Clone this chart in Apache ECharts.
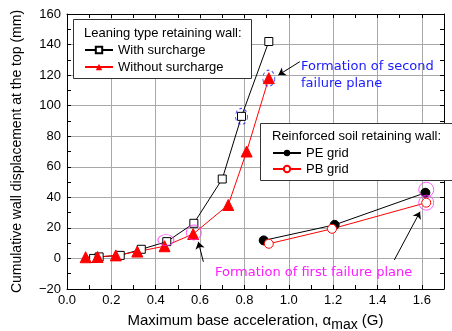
<!DOCTYPE html>
<html><head><meta charset="utf-8">
<script src="https://cdn.jsdelivr.net/npm/echarts@6/dist/echarts.min.js"></script>
<style>html,body{margin:0;padding:0;background:#fff}#c{width:452px;height:331px}</style>
</head><body><div id="c"></div>
<script>
// Data
const withSurchargeX = [0.12, 0.145, 0.24, 0.335, 0.45, 0.572, 0.70, 0.787, 0.91];
const withSurchargeY = [0, 1, 2, 6, 11, 23, 52, 93, 142];
const withoutSurchargeX = [0.084, 0.138, 0.22, 0.317, 0.44, 0.569, 0.727, 0.81, 0.91];
const withoutSurchargeY = [0.8, 1, 2, 4.5, 8, 16, 35, 70, 118];
const peGridX = [0.887, 1.207, 1.616];
const peGridY = [11.8, 22, 43];
const pbGridX = [0.91, 1.195, 1.62];
const pbGridY = [9.6, 19.4, 36.5];
const firstFailureEllipseX = [0.446];
const firstFailureEllipseY = [12];
const firstFailureCircleX = [0.572, 1.62, 1.62];
const firstFailureCircleY = [17, 45, 36.5];
const secondFailureX = [0.787, 0.91];
const secondFailureY = [93, 118];
const xTicks = [0, 0.2, 0.4, 0.6, 0.8, 1.0, 1.2, 1.4, 1.6];
const yTicks = [-20, 0, 20, 40, 60, 80, 100, 120, 140, 160];

const zip = (a, b) => a.map((v, i) => [v, b[i]]);
const FONT = 'Liberation Sans, Arial, sans-serif';
const AFONT = 'DejaVu Sans, sans-serif';
const chart = echarts.init(document.getElementById('c'));

const tick = { show: true, inside: true, length: 4, lineStyle: { color: '#000' } };
const minor = { show: true, splitNumber: 2, length: 4, lineStyle: { color: '#000' } };
const line = { show: true, onZero: false, lineStyle: { color: '#000', width: 1 } };
const grid = { show: true, lineStyle: { color: '#a8a8a8', width: 1 } };

chart.setOption({
  animation: false,
  grid: { left: 67, top: 14, width: 377, height: 275, outerBoundsMode: 'none', containLabel: false },
  xAxis: [
    { type: 'value', min: 0, max: 1.7, interval: 0.2, position: 'bottom',
      axisLine: line, axisTick: tick, minorTick: minor, splitLine: grid,
      axisLabel: { color: '#000', fontSize: 13, fontFamily: FONT, margin: 5, showMaxLabel: false,
        formatter: v => xTicks.some(t => Math.abs(t - v) < 1e-6) ? v.toFixed(1) : '' },
      name: 'Maximum base acceleration, α{sub|max} (G)',
      nameLocation: 'middle', nameGap: 20,
      nameTextStyle: { color: '#000', fontSize: 15, fontFamily: FONT,
        rich: { sub: { fontSize: 14, fontFamily: FONT, color: '#000', padding: [9, 0, 0, 0] } } } },
    { type: 'value', min: 0, max: 1.7, interval: 0.2, position: 'top',
      axisLine: line, axisTick: tick, minorTick: minor, splitLine: { show: false },
      axisLabel: { show: false } }
  ],
  yAxis: [
    { type: 'value', min: -20, max: 160, interval: 20, position: 'left',
      axisLine: line, axisTick: tick, minorTick: minor, splitLine: grid,
      axisLabel: { color: '#000', fontSize: 13, fontFamily: FONT, margin: 6,
        formatter: v => yTicks.includes(v) ? String(v).replace('-', '\u2212') : '' },
      name: 'Cumulative wall displacement at the top (mm)',
      nameLocation: 'middle', nameGap: 43,
      nameTextStyle: { color: '#000', fontSize: 14, fontFamily: FONT } },
    { type: 'value', min: -20, max: 160, interval: 20, position: 'right',
      axisLine: line, axisTick: tick, minorTick: minor, splitLine: { show: false },
      axisLabel: { show: false } }
  ],
  legend: [
    { orient: 'vertical', left: 84, top: 43, itemGap: 3, itemWidth: 28, itemHeight: 8, z: 100,
      padding: 0,
      textStyle: { fontSize: 13, lineHeight: 14, fontFamily: FONT, color: '#000' },
      data: ['With surcharge', 'Without surcharge'] },
    { orient: 'vertical', left: 272, top: 146, itemGap: 2, itemWidth: 28, itemHeight: 8, z: 100,
      padding: 0,
      textStyle: { fontSize: 13, lineHeight: 14, fontFamily: FONT, color: '#000' },
      data: ['PE grid', 'PB grid'] }
  ],
  graphic: [
    { type: 'rect', left: 73, top: 19, z: 50, shape: { width: 178, height: 59 },
      style: { fill: '#fff', stroke: '#333', lineWidth: 1 } },
    { type: 'text', left: 84, top: 27, z: 101,
      style: { text: 'Leaning type retaining wall:', font: '13px ' + FONT, fill: '#000' } },
    { type: 'rect', left: 260, top: 123, z: 50, shape: { width: 194, height: 57 },
      style: { fill: '#fff', stroke: '#333', lineWidth: 1 } },
    { type: 'text', left: 272, top: 130, z: 101,
      style: { text: 'Reinforced soil retaining wall:', font: '13px ' + FONT, fill: '#000' } },
    { type: 'text', left: 301, top: 58, z: 101,
      style: { text: 'Formation of second\nfailure plane', font: '13px ' + AFONT, fill: '#1a1aff', lineHeight: 17 } },
    { type: 'text', left: 215, top: 266, z: 101,
      style: { text: 'Formation of first failure plane', font: '13px ' + AFONT, fill: '#ff1aff' } }
  ],
  series: [
    { name: 'With surcharge', type: 'line', data: zip(withSurchargeX, withSurchargeY),
      symbol: 'rect', symbolSize: 8, z: 5,
      lineStyle: { color: '#000', width: 1 },
      itemStyle: { color: '#fff', borderColor: '#000', borderWidth: 1 } },
    { name: 'Without surcharge', type: 'line', data: zip(withoutSurchargeX, withoutSurchargeY),
      symbol: 'triangle', symbolSize: 11, z: 5,
      lineStyle: { color: '#ff0000', width: 1 },
      itemStyle: { color: '#ff0000', borderColor: '#ff0000' } },
    { name: 'PE grid', type: 'line', data: zip(peGridX, peGridY),
      symbol: 'circle', symbolSize: 9, z: 5,
      lineStyle: { color: '#000', width: 1 },
      itemStyle: { color: '#000', borderColor: '#000' } },
    { name: 'PB grid', type: 'line', data: zip(pbGridX, pbGridY),
      symbol: 'circle', symbolSize: 9, z: 5,
      lineStyle: { color: '#ff0000', width: 1 },
      itemStyle: { color: '#fff', borderColor: '#ff0000', borderWidth: 1 } },
    { name: 'first1', type: 'scatter', data: zip(firstFailureEllipseX, firstFailureEllipseY), z: 6,
      symbol: 'circle', symbolSize: [16, 11], silent: true,
      itemStyle: { color: 'rgba(0,0,0,0)', borderColor: '#ff33ff', borderWidth: 1 } },
    { name: 'first2', type: 'scatter', data: zip(firstFailureCircleX, firstFailureCircleY), z: 6,
      symbol: 'circle', symbolSize: 15, silent: true,
      itemStyle: { color: 'rgba(0,0,0,0)', borderColor: '#ff33ff', borderWidth: 1 } },
    { name: 'second', type: 'scatter', data: zip(secondFailureX, secondFailureY), z: 6,
      symbol: 'circle', symbolSize: [12, 16], silent: true,
      itemStyle: { color: 'rgba(0,0,0,0)', borderColor: '#1a1aff', borderWidth: 1, borderType: [3, 3] } },
    { name: 'arrows', type: 'line', data: [], silent: true, z: 7,
      markLine: { silent: true, animation: false, symbolSize: 7,
        lineStyle: { color: '#000', width: 1, type: 'solid' }, label: { show: false },
        data: [
          [{ coord: [0.615, -2.2], symbol: 'none' }, { coord: [0.592, 10.9], symbol: 'arrow' }],
          [{ coord: [1.476, -1], symbol: 'none' }, { coord: [1.592, 30.6], symbol: 'arrow' }],
          [{ coord: [1.05, 128.8], symbol: 'none' }, { coord: [0.953, 120], symbol: 'arrow' }]
        ] } }
  ]
});
</script></body></html>
